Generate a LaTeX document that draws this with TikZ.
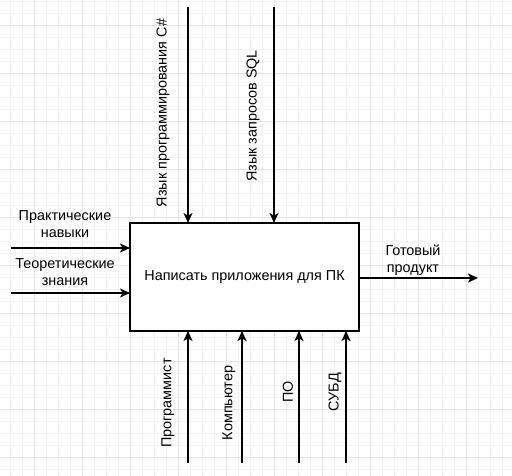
\documentclass[tikz,border=0pt]{standalone}
\usepackage{fontspec}
\setmainfont{Liberation Sans}
\usetikzlibrary{arrows.meta}
\definecolor{gridminor}{HTML}{F3F3F3}
\definecolor{gridmajor}{HTML}{E4E4E4}
\begin{document}
\begin{tikzpicture}[x=1bp, y=-1bp, >={Stealth[length=10bp,width=9bp,inset=2.5bp]},
    font=\fontsize{14.4bp}{17bp}\selectfont,
    flow/.style={->, line width=1.2bp}]
    \useasboundingbox (0,0) rectangle (512,476);
    % grid
    \foreach \x in {10.5,22.5,...,510}
        \draw[gridminor, line width=0.8bp] (\x,0)--(\x,476);
    \foreach \y in {1,13,...,476}
        \draw[gridminor, line width=0.8bp] (0,\y)--(512,\y);
    \foreach \x in {34.5,82.5,...,510}
        \draw[gridmajor, line width=0.8bp] (\x,0)--(\x,476);
    \foreach \y in {25,73,...,476}
        \draw[gridmajor, line width=0.8bp] (0,\y)--(512,\y);

    \node[draw, fill=white, line width=1.2bp, minimum width=229bp, minimum height=108bp,
        outer sep=0pt] (proc) at (244.5,277) {Написать приложения для ПК};

    % controls
    \foreach \x/\name in {188/ctla,274/ctlb}
    {
        \coordinate (\name) at (\x,7);
        \draw[flow] (\name)--(\name |- proc.north);
    }
    % inputs
    \foreach \y/\name in {248/ina,293/inb}
    {
        \coordinate (\name) at (11,\y);
        \draw[flow] (\name)--(\name -| proc.west);
    }
    % output
    \coordinate (outa) at (478,278);
    \draw[flow] (proc.east |- outa)--(outa);
    % mechanisms
    \foreach \x/\name in {188/mecha,242/mechb,299/mechc,346/mechd}
    {
        \coordinate (\name) at (\x,463);
        \draw[flow] (\name)--(\name |- proc.south);
    }

    \node[rotate=90] (lctla) at (163,113) {Язык программирования C\#};
    \node[rotate=90] (lctlb) at (253,116) {Язык запросов SQL};
    \node[align=center] (lina) at (65,224.5) {Практические\\навыки};
    \node[align=center] (linb) at (65,272.5) {Теоретические\\знания};
    \node[align=center] (louta) at (413,260.5) {Готовый\\продукт};
    \node[rotate=90] (lmecha) at (168,403) {Программист};
    \node[rotate=90] (lmechb) at (229,403) {Компьютер};
    \node[rotate=90] (lmechc) at (288,392) {ПО};
    \node[rotate=90] (lmechd) at (335,392) {СУБД};
\end{tikzpicture}
\end{document}
